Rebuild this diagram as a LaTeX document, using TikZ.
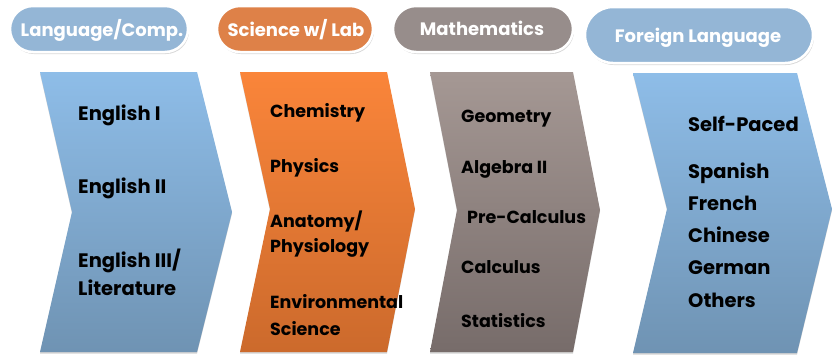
\documentclass[tikz,border=0pt]{standalone}
\usepackage{fontspec}
\setmainfont{Poppins}
\usetikzlibrary{shapes.misc, shadows, positioning}
\definecolor{langblue}{HTML}{94B6D6}
\definecolor{sciorange}{HTML}{DE8148}
\definecolor{mathgray}{HTML}{978D8B}
\definecolor{chevblueA}{HTML}{8EBDE8}
\definecolor{chevblueB}{HTML}{6F93B3}
\definecolor{chevorangeA}{HTML}{FA853A}
\definecolor{chevorangeB}{HTML}{CC6A2C}
\definecolor{chevgrayA}{HTML}{A59894}
\definecolor{chevgrayB}{HTML}{776C6A}
\tikzset{
  pill/.style={rounded rectangle, draw=white, line width=2.5pt, inner sep=0pt,
    drop shadow={shadow xshift=1pt, shadow yshift=-2pt, opacity=0.3}},
  pilltext/.style={anchor=base, text=white, inner sep=0pt,
    font=\bfseries\fontsize{18}{20}\selectfont},
  chevron/.style={drop shadow={shadow xshift=0pt, shadow yshift=-1.5pt, opacity=0.35}},
  course/.style={anchor=base west, inner sep=0pt, align=left,
    font=\bfseries\fontsize{17.5}{26}\selectfont}
}
\begin{document}
\begin{tikzpicture}[x=1pt, y=-1pt]
\useasboundingbox (0,0) rectangle (833,362);

% column headers
\node[pill, fill=langblue, minimum width=178pt, minimum height=46pt] (hlang) at (99,29) {};
\node[pill, fill=sciorange, minimum width=156pt, minimum height=46pt] (hsci) at (295,29) {};
\node[pill, fill=mathgray, minimum width=180pt, minimum height=46pt] (hmath) at (483,29) {};
\node[pill, fill=langblue, minimum width=228pt, minimum height=56pt] (hforeign) at (699,35) {};
\node[pilltext] (tlang) at (102,36) {Language/Comp.};
\node[pilltext] (tsci) at (296,36) {Science w/ Lab};
\node[pilltext] (tmath) at (482,35) {Mathematics};
\node[pilltext] (tforeign) at (698,42) {Foreign Language};

% chevrons
\shade[chevron, top color=chevblueA, bottom color=chevblueB]
  (40,72) -- (197,72) -- (232,212) -- (197,352) -- (40,352) -- (72,212) -- cycle;
\shade[chevron, top color=chevorangeA, bottom color=chevorangeB]
  (240,72) -- (387,72) -- (415,209) -- (387,352) -- (240,352) -- (270,209) -- cycle;
\shade[chevron, top color=chevgrayA, bottom color=chevgrayB]
  (430,72) -- (573,72) -- (600,210) -- (573,352) -- (430,352) -- (457,210) -- cycle;
\shade[chevron, top color=chevblueA, bottom color=chevblueB]
  (633,73) -- (797,73) -- (832,209) -- (797,353) -- (633,353) -- (667,209) -- cycle;

% language / composition
\node[course, font=\bfseries\fontsize{19.5}{28}\selectfont] (eng1) at (78,120) {English I};
\node[course, font=\bfseries\fontsize{19.5}{28}\selectfont] (eng2) at (78,193) {English II};
\node[course, font=\bfseries\fontsize{19.5}{28}\selectfont] (eng3) at (78,295) {English III/\\Literature};

% science
\node[course] (chem) at (270,117) {Chemistry};
\node[course] (phys) at (270,172) {Physics};
\node[course, font=\bfseries\fontsize{17.5}{25}\selectfont] (anat) at (270,252) {Anatomy/\\Physiology};
\node[course, font=\bfseries\fontsize{17.5}{27}\selectfont] (envi) at (270,335) {Environmental\\Science};

% mathematics
\node[course] (geom) at (461,122) {Geometry};
\node[course] (alg2) at (461,173) {Algebra II};
\node[course] (precalc) at (467,223) {Pre-Calculus};
\node[course] (calc) at (461,273) {Calculus};
\node[course] (stat) at (461,327) {Statistics};

% foreign language
\node[course, font=\bfseries\fontsize{19.5}{26}\selectfont] (selfpaced) at (688,131) {Self-Paced};
\node[course, font=\bfseries\fontsize{19.5}{32.2}\selectfont] (langs) at (688,307) {Spanish\\French\\Chinese\\German\\Others};
\end{tikzpicture}
\end{document}
